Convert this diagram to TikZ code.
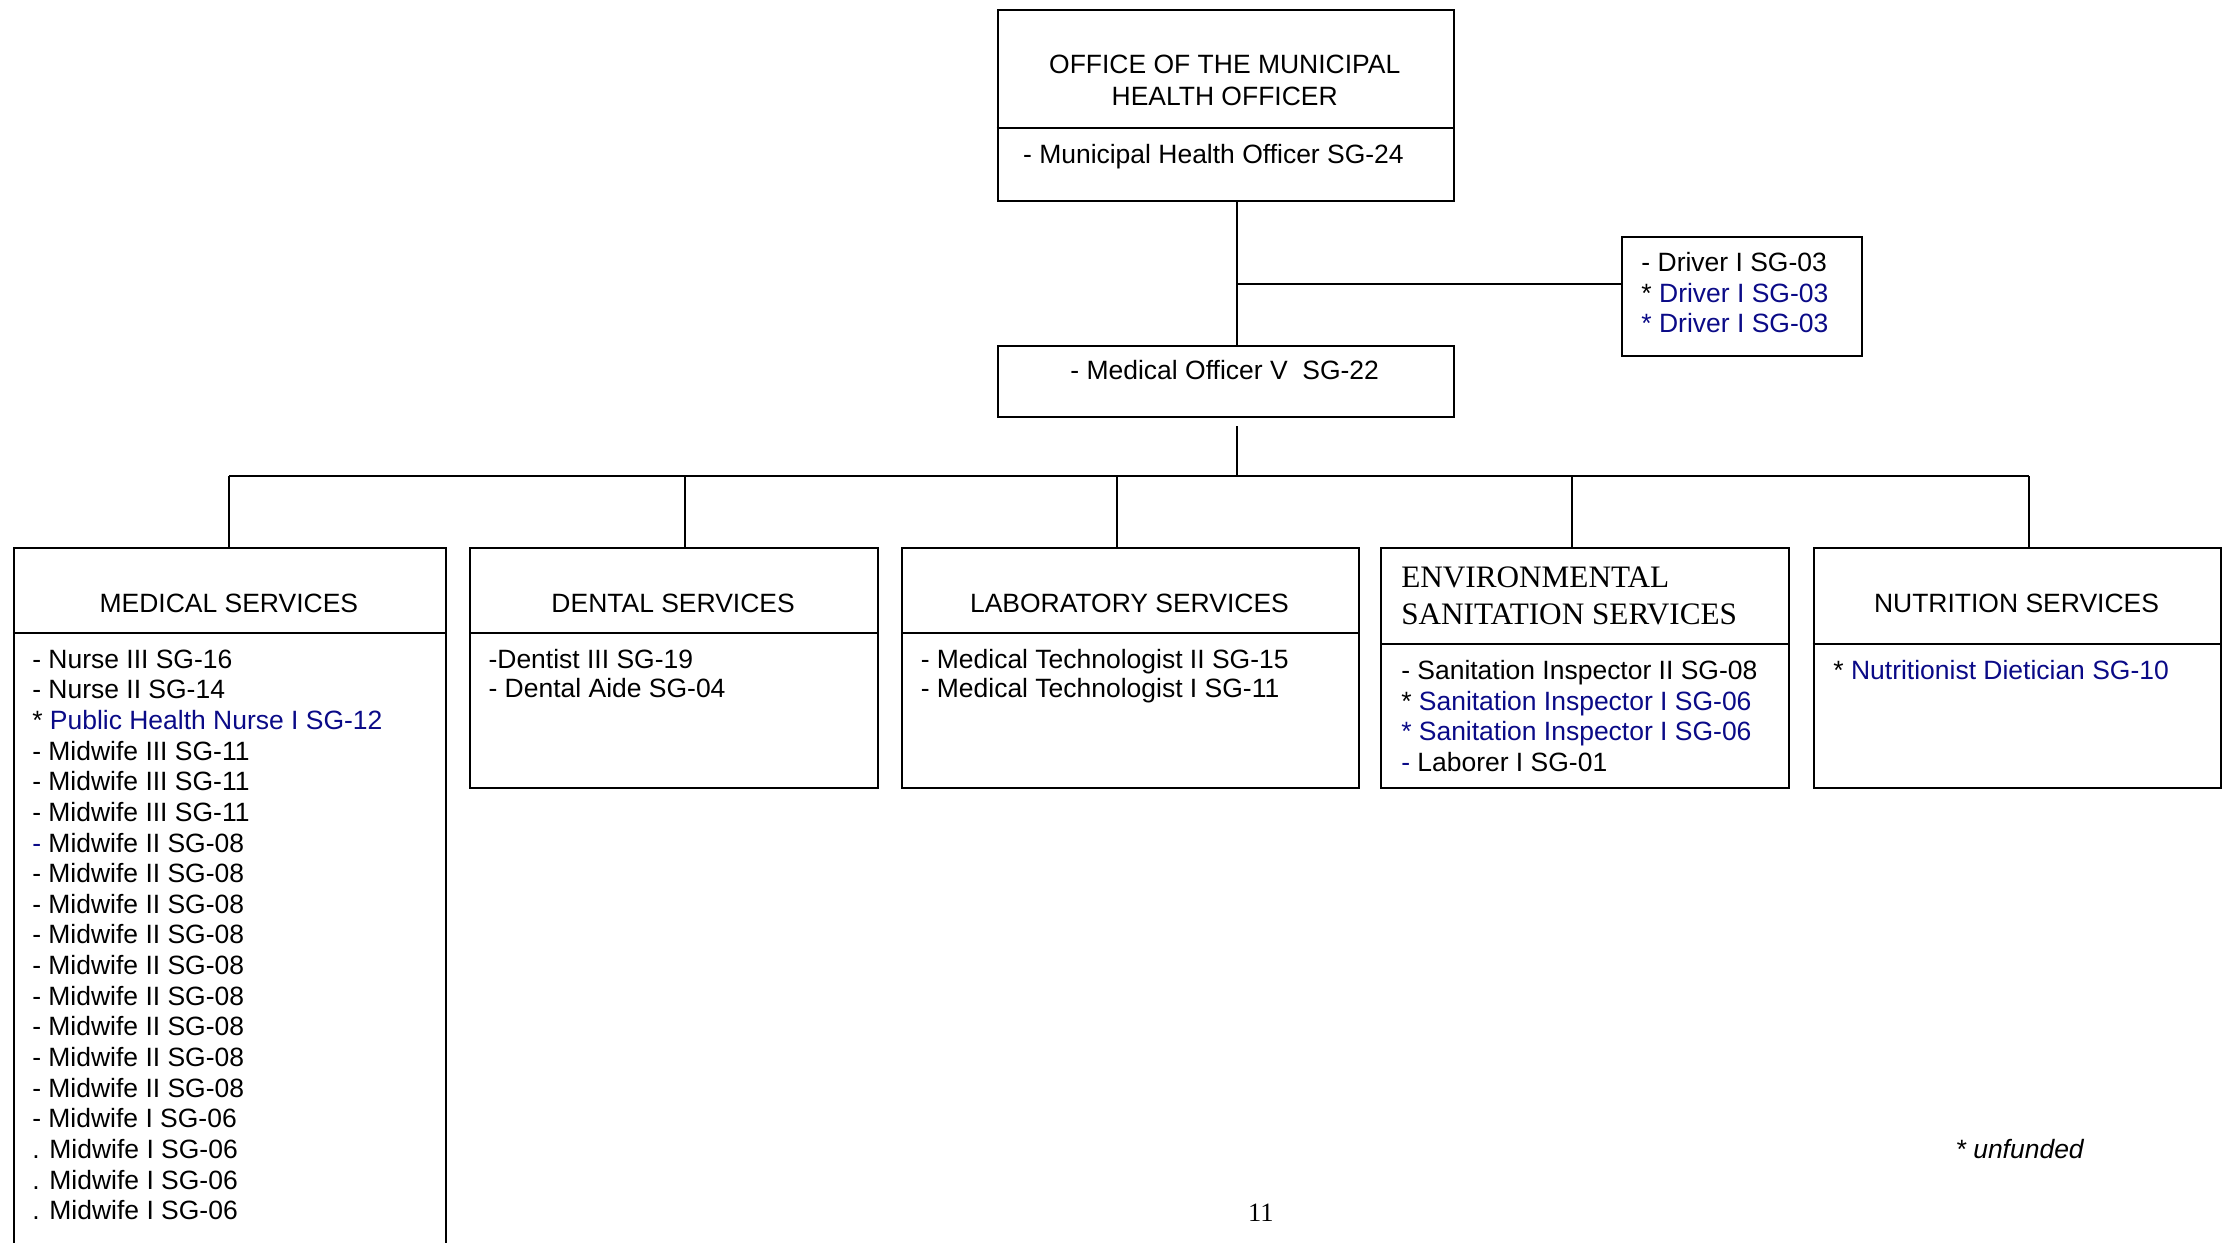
\documentclass[tikz,border=0pt]{standalone}
\usepackage{fontspec}
\setmainfont{Liberation Sans}
\newfontfamily\timesfont{Liberation Serif}
\definecolor{UF}{RGB}{10,10,135}
\newcommand{\unf}[1]{\textcolor{UF}{#1}}
\tikzset{
  unit/.style={draw, line width=0.8pt, inner sep=0pt, anchor=north west},
  post/.style={font=\fontsize{10.6}{12.7}\selectfont, anchor=base west, inner sep=0pt},
  head/.style={post, anchor=base},
  envhead/.style={post, font=\timesfont\fontsize{12.5}{15}\selectfont},
}

\begin{document}
\begin{tikzpicture}[x=0.02cm, y=-0.02cm, line width=0.8pt]
  \useasboundingbox (0,0) rectangle (1568,874);
  % office of the MHO
  \node[unit, minimum width=6.42cm, minimum height=2.70cm] (mho) at (701,6) {};
  \draw (mho.west |- 0,90) -- (mho.east |- 0,90);
  \node[head] (mhoT1) at (861.5,52) {OFFICE OF THE MUNICIPAL};
  \node[head] (mhoT2) at (861.5,74) {HEALTH OFFICER};
  \node[post] (mhoP) at (719,115) {- Municipal Health Officer SG-24};
  \node[unit, minimum width=6.42cm, minimum height=1.00cm] (mo) at (701,243) {};
  \node[head] (moP) at (861.5,267) {- Medical Officer V\ \ SG-22};
  \node[unit, minimum width=3.38cm, minimum height=1.68cm] (drv) at (1140,166) {};
  \node[post] (drv1) at (1154,191) {- Driver I SG-03};
  \node[post] (drv2) at (1154,213) {* \unf{Driver I SG-03}};
  \node[post] (drv3) at (1154,234) {\unf{* Driver I SG-03}};

  \coordinate (jD) at (870,200);
  \coordinate (jS) at (870,300);
  \coordinate (jB) at (870,335);
  \draw (mho.south -| jD) -- (mo.north -| jD);
  \draw (jD) -- (jD -| drv.west);
  \draw (jS) -- (jB);

  % services
  \node[unit, minimum width=6.08cm, minimum height=10cm] (med) at (9,385) {};
  \node[unit, minimum width=5.74cm, minimum height=3.38cm] (den) at (330,385) {};
  \node[unit, minimum width=6.42cm, minimum height=3.38cm] (lab) at (634,385) {};
  \node[unit, minimum width=5.74cm, minimum height=3.38cm] (env) at (971,385) {};
  \node[unit, minimum width=5.74cm, minimum height=3.38cm] (nut) at (1275,385) {};
  \foreach \n/\x in {med/161, den/482, lab/786, env/1106, nut/1427}
    \coordinate (d-\n) at (\x,335);
  \draw (d-med) -- (d-nut);
  \foreach \n/\y in {med/445, den/445, lab/445, env/453, nut/453} {
    \draw (d-\n) -- (d-\n |- \n.north);
    \draw (\n.west |- 0,\y) -- (\n.east |- 0,\y);
  }

  \node[head] (medH) at (161,431) {MEDICAL SERVICES};
  \node[head] (denH) at (473.5,431) {DENTAL SERVICES};
  \node[head] (labH) at (794.5,431) {LABORATORY SERVICES};
  \node[envhead] (envH1) at (985,413.5) {ENVIRONMENTAL};
  \node[envhead] (envH2) at (985,439.5) {SANITATION SERVICES};
  \node[head] (nutH) at (1418.5,431) {NUTRITION SERVICES};

  \foreach \t [count=\i from 0] in {{- Nurse III SG-16}, {- Nurse II SG-14},
      {* \unf{Public Health Nurse I SG-12}}, {- Midwife III SG-11},
      {- Midwife III SG-11}, {- Midwife III SG-11}, {\unf{-} Midwife II SG-08},
      {- Midwife II SG-08}, {- Midwife II SG-08}, {- Midwife II SG-08},
      {- Midwife II SG-08}, {- Midwife II SG-08}, {- Midwife II SG-08},
      {- Midwife II SG-08}, {- Midwife II SG-08}, {- Midwife I SG-06},
      {. Midwife I SG-06}, {. Midwife I SG-06}, {. Midwife I SG-06}}
    \node[post] (med-\i) at (22,{470+21.56*\i}) {\t};
  \node[post] (den-0) at (343,470) {-Dentist III SG-19};
  \node[post] (den-1) at (343,491) {- Dental Aide SG-04};
  \node[post] (lab-0) at (647,470) {- Medical Technologist II SG-15};
  \node[post] (lab-1) at (647,491) {- Medical Technologist I SG-11};
  \foreach \t [count=\i from 0] in {{- Sanitation Inspector II SG-08},
      {* \unf{Sanitation Inspector I SG-06}}, {\unf{* Sanitation Inspector I SG-06}},
      {\unf{-} Laborer I SG-01}}
    \node[post] (env-\i) at (985,{478+21.6*\i}) {\t};
  \node[post] (nut-0) at (1289,478) {* \unf{Nutritionist Dietician SG-10}};

  \node[post] (note) at (1375,815) {\itshape * unfunded};
  \node[head, font=\timesfont\fontsize{10.6}{12.7}\selectfont] (pg) at (887,859) {11};
\end{tikzpicture}
\end{document}
